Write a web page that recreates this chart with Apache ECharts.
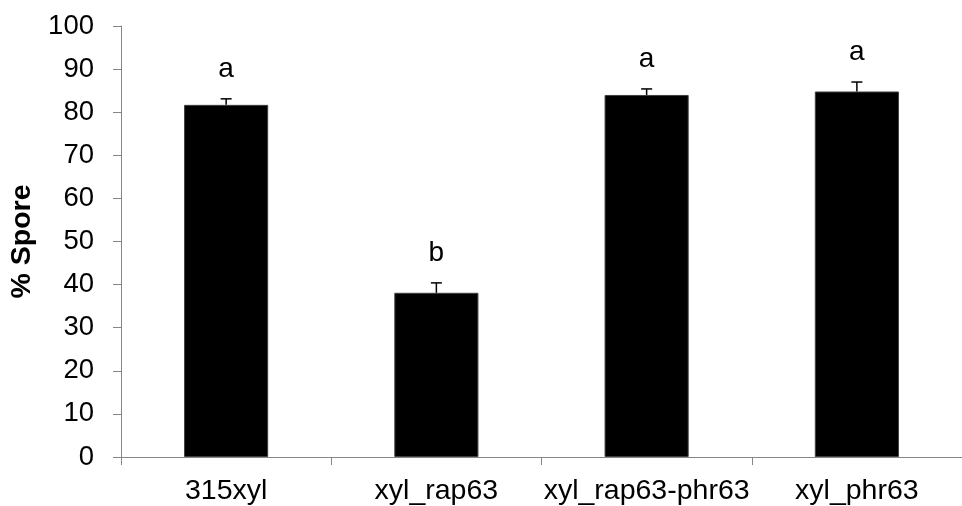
<!DOCTYPE html>
<html>
<head>
<meta charset="utf-8">
<script src="https://cdn.jsdelivr.net/npm/echarts@6/dist/echarts.min.js"></script>
<style>
  html, body { margin: 0; padding: 0; background: #fff; }
  #main { width: 962px; height: 506px; }
</style>
</head>
<body>
<div id="main"></div>
<script>
// strains on the x axis
var categories = ['315xyl', 'xyl_rap63', 'xyl_rap63-phr63', 'xyl_phr63'];
// % spore values and standard errors
var spore = [81.7, 38.1, 84.0, 84.8];
var errors = [1.4, 2.3, 1.4, 2.2];
// significance letters above the bars
var letters = ['a', 'b', 'a', 'a'];
var yTicks = [0, 100, 10];

var FONT = 'Liberation Sans, Arial, sans-serif';
var AXIS_GRAY = '#868686';

var errData = [];
for (var i = 0; i < categories.length; i++) {
    errData.push([i, spore[i], errors[i]]);
}

function renderError(params, api) {
    var x = api.value(0);
    var v = api.value(1);
    var e = api.value(2);
    var base = api.coord([x, v]);
    var top = api.coord([x, v + e]);
    var lineStyle = { stroke: '#000', lineWidth: 1.5 };
    return {
        type: 'group',
        children: [{
            type: 'line',
            shape: { x1: top[0], y1: base[1], x2: top[0], y2: top[1] },
            style: lineStyle
        }, {
            type: 'line',
            shape: { x1: top[0] - 5.5, y1: top[1], x2: top[0] + 5.5, y2: top[1] },
            style: lineStyle
        }, {
            type: 'text',
            x: top[0],
            y: top[1] - 30,
            style: {
                text: letters[params.dataIndex],
                fill: '#000',
                fontSize: 28,
                fontFamily: FONT,
                align: 'center',
                verticalAlign: 'middle'
            }
        }]
    };
}

var option = {
    animation: false,
    backgroundColor: '#fff',
    grid: {
        left: 121,
        top: 26,
        width: 850,
        bottom: 49
    },
    xAxis: {
        type: 'category',
        data: categories,
        boundaryGap: true,
        axisLine: { lineStyle: { color: AXIS_GRAY, width: 1 } },
        axisTick: { show: true, length: 8, inside: false, lineStyle: { color: AXIS_GRAY } },
        axisLabel: { color: '#000', fontSize: 28.5, fontFamily: FONT, margin: 20, interval: 0 },
        splitLine: { show: false }
    },
    yAxis: {
        type: 'value',
        min: yTicks[0],
        max: yTicks[1],
        interval: yTicks[2],
        name: '% Spore',
        nameLocation: 'middle',
        nameGap: 84,
        nameTextStyle: { color: '#000', fontSize: 28.5, fontWeight: 'bold', fontFamily: FONT },
        axisLine: { show: true, lineStyle: { color: AXIS_GRAY, width: 1 } },
        axisTick: { show: true, length: 8, lineStyle: { color: AXIS_GRAY } },
        axisLabel: { color: '#000', fontSize: 27.5, fontFamily: FONT, margin: 27 },
        splitLine: { show: false }
    },
    series: [{
        name: '% Spore',
        type: 'bar',
        data: spore,
        barWidth: '40%',
        itemStyle: { color: '#000', borderColor: '#3f3f3f', borderWidth: 1 }
    }, {
        name: 'error',
        type: 'custom',
        data: errData,
        renderItem: renderError,
        z: 3
    }]
};

var myChart = echarts.init(document.getElementById('main'));
myChart.setOption(option);
</script>
</body>
</html>
